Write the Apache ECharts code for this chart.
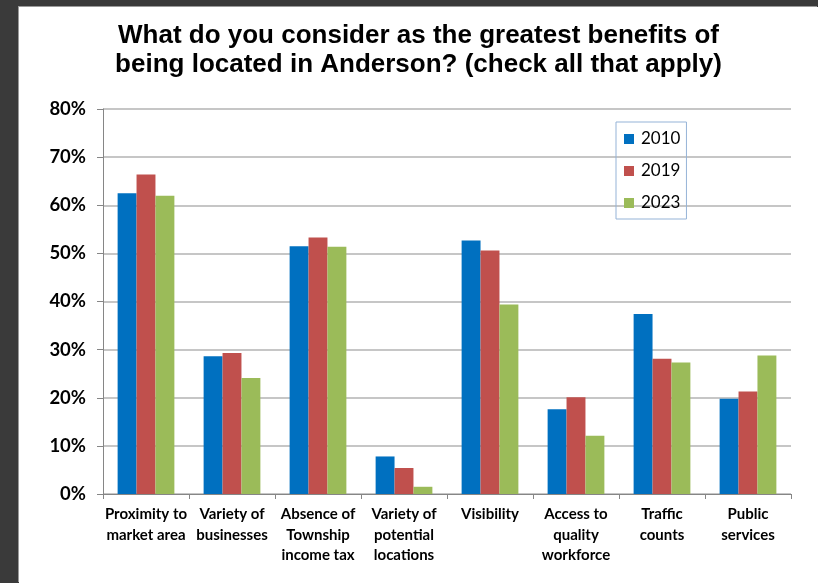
<!DOCTYPE html>
<html>
<head>
<meta charset="utf-8">
<script src="https://cdn.jsdelivr.net/npm/echarts@6/dist/echarts.min.js"></script>
<style>
  html, body { margin: 0; padding: 0; width: 818px; height: 583px; overflow: hidden; background: #3a3a3a; }
  #chart { position: absolute; left: 19px; top: 7px; width: 799px; height: 576px; background: #ffffff;
           box-shadow: -1px -1px 0 #9a9a9a; }
</style>
</head>
<body>
<div id="chart"></div>
<script>
// Survey categories (x axis)
const categories = [
  'Proximity to\nmarket area',
  'Variety of\nbusinesses',
  'Absence of\nTownship\nincome tax',
  'Variety of\npotential\nlocations',
  'Visibility',
  'Access to\nquality\nworkforce',
  'Traffic\ncounts',
  'Public\nservices'
];

// Share of respondents (%) per survey year
const years = ['2010', '2019', '2023'];
const values2010 = [62.5, 28.6, 51.5, 7.8, 52.7, 17.6, 37.4, 19.8];
const values2019 = [66.4, 29.3, 53.3, 5.4, 50.6, 20.1, 28.1, 21.3];
const values2023 = [62.0, 24.1, 51.4, 1.5, 39.4, 12.1, 27.3, 28.8];

const colors = ['#0070c0', '#c0504d', '#9bbb59'];
const seriesValues = [values2010, values2019, values2023];

const chart = echarts.init(document.getElementById('chart'), null, { renderer: 'canvas' });

chart.setOption({
  animation: false,
  title: {
    text: 'What do you consider as the greatest benefits of\nbeing located in Anderson? (check all that apply)',
    left: 'center',
    top: 14,
    padding: 0,
    textStyle: {
      fontFamily: 'Liberation Sans',
      fontWeight: 'bold',
      fontSize: 26,
      lineHeight: 29,
      color: '#000000'
    }
  },
  legend: {
    orient: 'vertical',
    left: 597,
    top: 115,
    padding: [7, 6, 6, 8],
    itemWidth: 10,
    itemHeight: 10,
    itemGap: 12,
    borderColor: '#95b3d7',
    borderWidth: 1,
    icon: 'rect',
    textStyle: {
      fontFamily: 'Lato',
      fontSize: 17,
      lineHeight: 20,
      color: '#000000',
      padding: [0, 0, 0, 2]
    },
    data: years
  },
  grid: {
    left: 84,
    top: 102,
    right: 27,
    bottom: 89,
    containLabel: false
  },
  xAxis: {
    type: 'category',
    data: categories,
    axisLine: { lineStyle: { color: '#868686', width: 1 } },
    axisTick: { show: true, length: 5, lineStyle: { color: '#868686' } },
    axisLabel: {
      interval: 0,
      margin: 10,
      fontFamily: 'Lato',
      fontWeight: 'bold',
      fontSize: 15,
      lineHeight: 20.5,
      color: '#000000'
    }
  },
  yAxis: {
    type: 'value',
    min: 0,
    max: 80,
    interval: 10,
    axisLine: { show: true, lineStyle: { color: '#868686', width: 1 } },
    axisTick: { show: true, length: 6, lineStyle: { color: '#868686' } },
    splitLine: { show: true, lineStyle: { color: '#b3b3b3', width: 1.5 } },
    axisLabel: {
      margin: 17,
      formatter: '{value}%',
      fontFamily: 'Lato',
      fontWeight: 'bold',
      fontSize: 18.5,
      color: '#000000'
    }
  },
  series: years.map((y, i) => ({
    name: y,
    type: 'bar',
    data: seriesValues[i],
    barGap: '0%',
    barCategoryGap: '34%',
    itemStyle: { color: colors[i] }
  }))
});
</script>
</body>
</html>
